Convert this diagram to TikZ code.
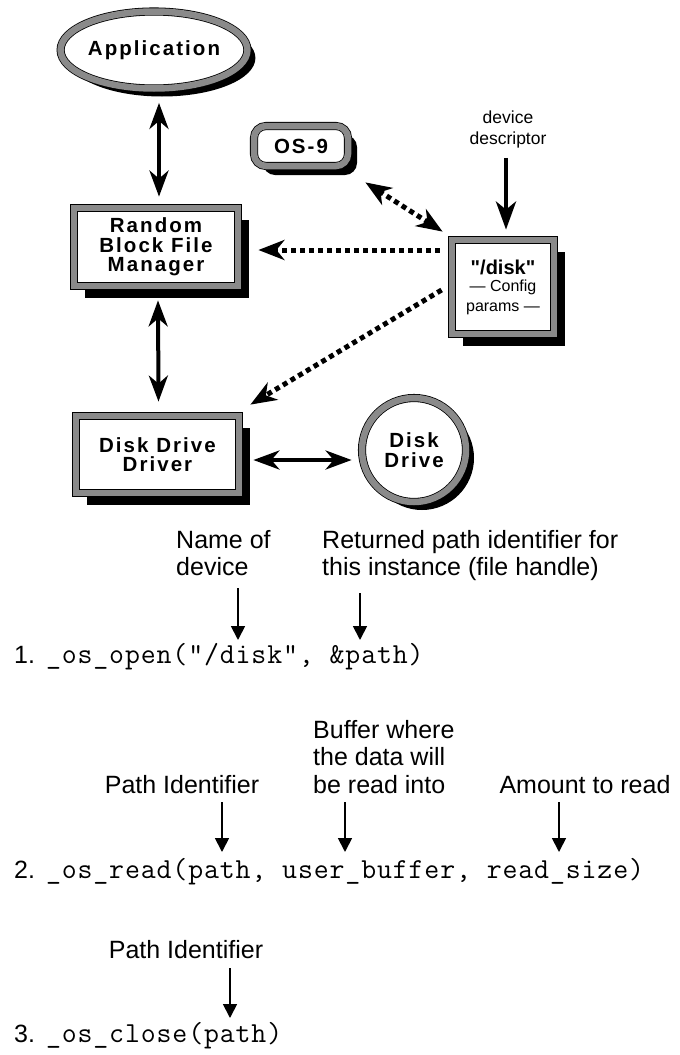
\documentclass[tikz,border=0pt]{standalone}
\usepackage{fontspec}
\setmainfont{Liberation Sans}
\newfontfamily\boxfont{Liberation Sans}[LetterSpace=10]
\newfontfamily\codefont{Latin Modern Mono}[LetterSpace=3]
\usetikzlibrary{arrows.meta,shapes.geometric,shadows}

\tikzset{
  ring/.style={draw=black, line width=0.8pt, double=gray!92!white, double distance=6.5pt,
               fill=white, inner sep=0pt, align=center,
               font=\boxfont\bfseries\fontsize{20.5}{19.5}\selectfont},
  sbox/.style={ring, rectangle,
               drop shadow={shadow xshift=11pt, shadow yshift=-12pt, opacity=1, fill=black}},
  soval/.style={ring, ellipse,
               drop shadow={shadow xshift=8pt, shadow yshift=-8pt, opacity=1, fill=black}},
  sround/.style={ring, rectangle, rounded corners=12pt,
               drop shadow={shadow xshift=9pt, shadow yshift=-9pt, opacity=1, fill=black}},
  scirc/.style={ring, circle,
               drop shadow={shadow xshift=8pt, shadow yshift=-8pt, opacity=1, fill=black}},
  bigarrow/.style={line width=4pt, {Stealth[length=26pt,width=19pt,inset=8pt]}-{Stealth[length=26pt,width=19pt,inset=8pt]}},
  downarrow/.style={line width=4.5pt, -{Stealth[length=28pt,width=20pt,inset=8pt]}},
  dotarrow/.style={line width=5pt, dash pattern=on 5pt off 4pt, -{Stealth[length=26pt,width=20pt,inset=8pt]}},
  dotboth/.style={line width=5pt, dash pattern=on 5pt off 4pt, {Stealth[length=26pt,width=20pt,inset=8pt]}-{Stealth[length=26pt,width=20pt,inset=8pt]}},
  thinarrow/.style={line width=1.8pt, -{Triangle[length=14pt,width=14pt]}},
  label/.style={inner sep=0pt, align=left, font=\fontsize{25}{27.5}\selectfont},
  codeline/.style={inner sep=0pt, anchor=base west, font=\fontsize{25}{27.5}\selectfont},
  small/.style={inner sep=0pt, align=center, font=\fontsize{17.5}{21}\selectfont},
}
\newcommand{\code}[1]{{\codefont\fontsize{29}{30}\selectfont #1}}

\begin{document}
\begin{tikzpicture}[x=1pt, y=-1pt]
\useasboundingbox (0,0) rectangle (680,1055);

% module boxes
\node[soval, minimum width=170pt, minimum height=77pt] (app) at (154,50) {Application};
\node[sbox, minimum width=164pt, minimum height=78pt] (rbfm) at (156,247) {Random\\Block File\\Manager};
\node[sround, minimum width=94pt, minimum height=40pt] (os9) at (301,146) {OS-9};
\node[sbox, minimum width=102pt, minimum height=94pt] (disk) at (503,287)
  {\fontspec{Liberation Sans}\bfseries\fontsize{20}{20}\selectfont "/disk"\\[-2pt]
   \fontspec{Liberation Sans}\mdseries\fontsize{16}{19}\selectfont — Config\\
   \fontspec{Liberation Sans}\mdseries\fontsize{16}{19}\selectfont params —};
\node[sbox, minimum width=163pt, minimum height=77pt] (ddd) at (157.5,454.5) {Disk Drive\\Driver};
\node[scirc, minimum size=104pt] (drive) at (414,450) {Disk\\Drive};
\node[small] (desc) at (508,129) {device\\descriptor};

% connectors between modules
\draw[bigarrow] ([shift={(5,14)}]app.south) -- ([shift={(3,-11)}]rbfm.north);
\draw[bigarrow] ([shift={(2,14)}]rbfm.south) -- ([shift={(1,-14)}]ddd.north);
\draw[bigarrow] ([shift={(14,5.5)}]ddd.east) -- ([shift={(-10,10)}]drive.west);
\draw[downarrow] ([shift={(-2,10)}]desc.south) -- ([shift={(3,-10)}]disk.north);
\draw[dotboth] ([shift={(17,16)}]os9.south east) -- ([shift={(-9,-8)}]disk.north west);
\draw[dotarrow] ([shift={(-12,-37)}]disk.west) -- ([shift={(20,3)}]rbfm.east);
\draw[dotarrow] ([shift={(-10,3)}]disk.west) -- ([shift={(11,-11)}]ddd.north east);

% call 1
\node[label, anchor=north west] (l1a) at (176,530) {Name of\\device};
\node[label, anchor=north west] (l1b) at (322,530) {Returned path identifier for\\this instance (file handle)};
\node[codeline] (c1) at (14,663) {1.\hspace{11pt}\code{\_os\_open(“/disk”, \&path)}};
\coordinate (t1a) at (238,640);
\coordinate (t1b) at (360,640);
\draw[thinarrow] (l1a.south west -| t1a) ++(0,12) -- (t1a);
\draw[thinarrow] (l1b.south west -| t1b) ++(0,12) -- (t1b);

% call 2
\node[label, anchor=base] (l2a) at (182,793) {Path Identifier};
\node[label, anchor=north west] (l2b) at (313,720) {Buffer where\\the data will\\be read into};
\node[label, anchor=base] (l2c) at (585,793) {Amount to read};
\node[codeline] (c2) at (14,878) {2.\hspace{11pt}\code{\_os\_read(path, user\_buffer, read\_size)}};
\coordinate (t2a) at (222,852);
\coordinate (t2b) at (345,852);
\coordinate (t2c) at (559,852);
\draw[thinarrow] (t2a |- 0,802) -- (t2a);
\draw[thinarrow] (t2b |- 0,802) -- (t2b);
\draw[thinarrow] (t2c |- 0,802) -- (t2c);

% call 3
\node[label, anchor=base] (l3a) at (186,958) {Path Identifier};
\node[codeline] (c3) at (14,1042) {3.\hspace{11pt}\code{\_os\_close(path)}};
\coordinate (t3a) at (230,1018);
\draw[thinarrow] (t3a |- 0,968) -- (t3a);
\end{tikzpicture}
\end{document}
